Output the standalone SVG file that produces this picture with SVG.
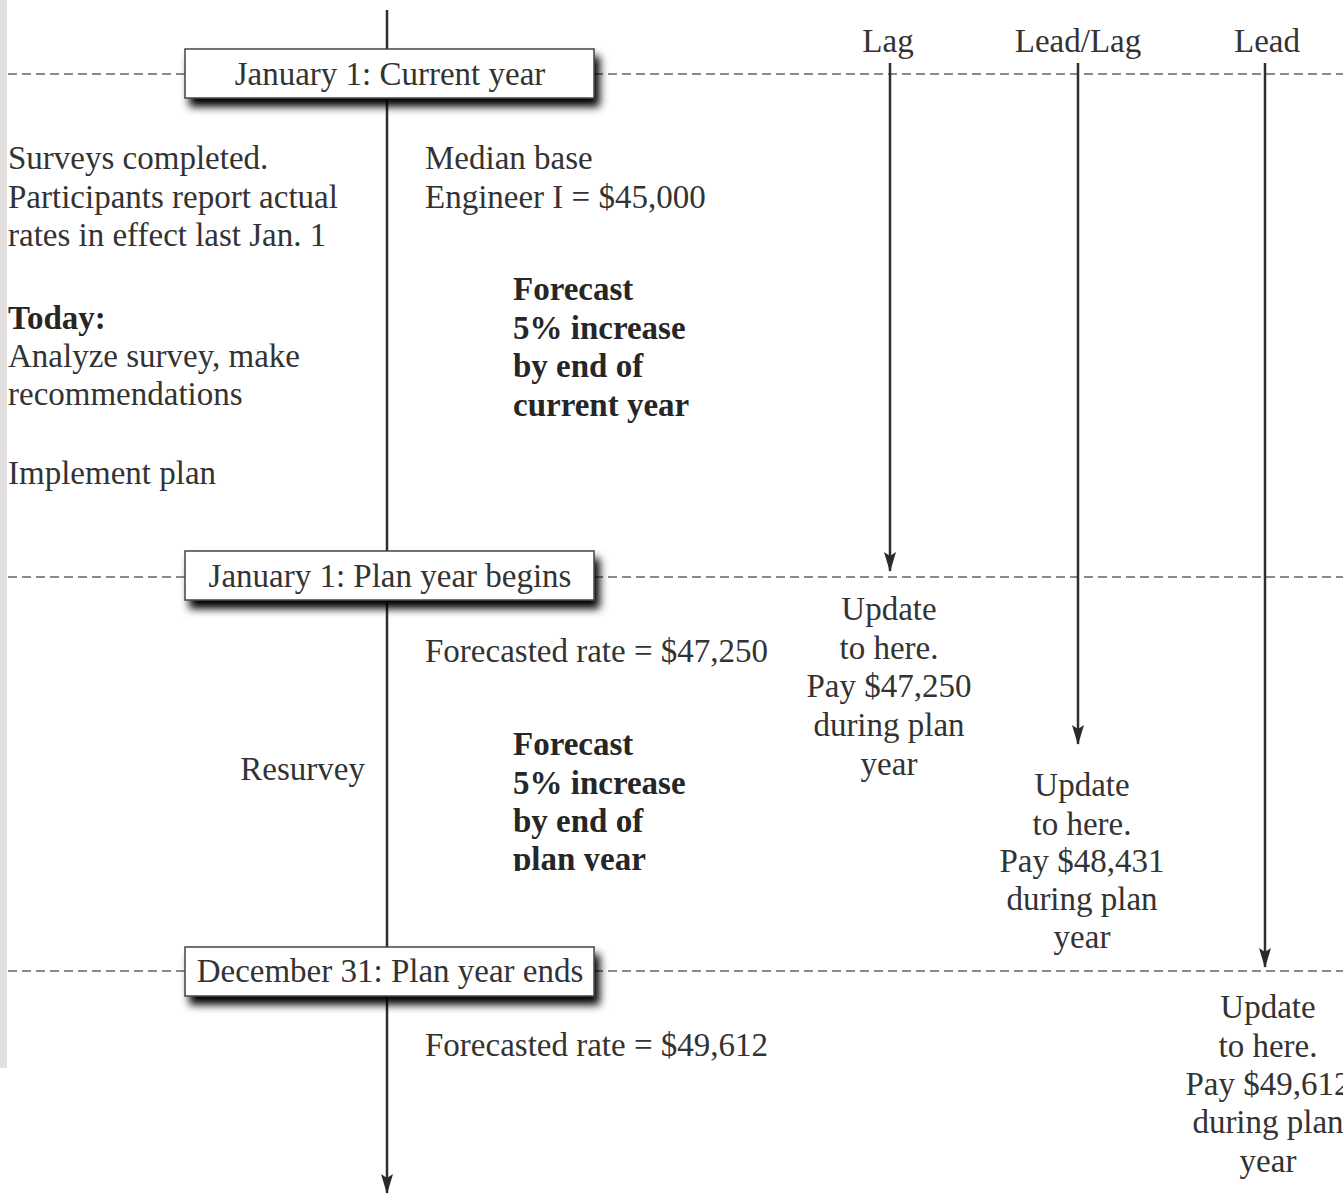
<svg xmlns="http://www.w3.org/2000/svg" width="1343" height="1197" viewBox="0 0 1343 1197">
<style>
  text { font-family: "Liberation Serif", "Times New Roman", serif; font-size: 33px; fill: #333; }
  .b { font-weight: bold; fill: #262626; }
  .c { text-anchor: middle; }
  .r { text-anchor: end; }
  .dash { stroke: #8a8a8a; stroke-width: 2; stroke-dasharray: 9 5; fill: none; }
  .line { stroke: #2e2e2e; stroke-width: 2.5; fill: none; }
  .box { fill: #fff; stroke: #444; stroke-width: 1.5; }
</style>
<defs>
  <marker id="ah" markerUnits="userSpaceOnUse" markerWidth="20" markerHeight="12" refX="19" refY="6" orient="auto" viewBox="0 0 20 12">
    <path d="M0,0 L20,6 L0,12 L4,6 z" fill="#2a2a2a"/>
  </marker>
  <filter id="sh" x="-10%" y="-30%" width="125%" height="200%">
    <feGaussianBlur in="SourceAlpha" stdDeviation="4"/>
    <feOffset dx="5" dy="8" result="o"/>
    <feComponentTransfer><feFuncA type="linear" slope="1"/></feComponentTransfer>
    <feMerge><feMergeNode/><feMergeNode in="SourceGraphic"/></feMerge>
  </filter>
  <clipPath id="clipPlan"><rect x="500" y="840" width="250" height="31"/></clipPath>
</defs>
<rect x="0" y="0" width="1343" height="1197" fill="#fff"/>
<rect x="0" y="0" width="7" height="1068" fill="#e3dfdf"/>

<g id="connectors">
  <line class="dash" x1="8" y1="74" x2="185" y2="74"/>
  <line class="dash" x1="594" y1="74" x2="1343" y2="74"/>
  <line class="dash" x1="8" y1="577" x2="185" y2="577"/>
  <line class="dash" x1="594" y1="577" x2="1343" y2="577"/>
  <line class="dash" x1="8" y1="971" x2="185" y2="971"/>
  <line class="dash" x1="594" y1="971" x2="1343" y2="971"/>
  <line class="line" x1="387" y1="10" x2="387" y2="1193" marker-end="url(#ah)"/>
  <line class="line" x1="890" y1="63" x2="890" y2="571" marker-end="url(#ah)"/>
  <line class="line" x1="1078" y1="63" x2="1078" y2="744" marker-end="url(#ah)"/>
  <line class="line" x1="1265" y1="63" x2="1265" y2="967" marker-end="url(#ah)"/>
</g>

<g id="box-current-year">
  <rect class="box" x="185" y="49" width="409" height="49" filter="url(#sh)"/>
  <text class="c" x="390" y="85">January 1: Current year</text>
</g>
<g id="box-plan-begins">
  <rect class="box" x="185" y="551" width="409" height="49" filter="url(#sh)"/>
  <text class="c" x="390" y="587">January 1: Plan year begins</text>
</g>
<g id="box-plan-ends">
  <rect class="box" x="185" y="947" width="409" height="49" filter="url(#sh)"/>
  <text class="c" x="390" y="982">December 31: Plan year ends</text>
</g>

<g id="left-notes">
  <text x="8" y="169">Surveys completed.</text>
  <text x="8" y="208">Participants report actual</text>
  <text x="8" y="246">rates in effect last Jan. 1</text>
  <text class="b" x="8" y="329">Today:</text>
  <text x="8" y="367">Analyze survey, make</text>
  <text x="8" y="405">recommendations</text>
  <text x="8" y="484">Implement plan</text>
  <text class="r" x="365" y="780">Resurvey</text>
</g>

<g id="median-base">
  <text x="425" y="169">Median base</text>
  <text x="425" y="208">Engineer I = $45,000</text>
</g>
<g id="forecast-current">
  <text class="b" x="513" y="300">Forecast</text>
  <text class="b" x="513" y="339">5% increase</text>
  <text class="b" x="513" y="377">by end of</text>
  <text class="b" x="513" y="416">current year</text>
</g>
<g id="rate-47250">
  <text x="425" y="662">Forecasted rate = $47,250</text>
</g>
<g id="forecast-plan">
  <text class="b" x="513" y="755">Forecast</text>
  <text class="b" x="513" y="794">5% increase</text>
  <text class="b" x="513" y="832">by end of</text>
  <text class="b" x="513" y="870" clip-path="url(#clipPlan)">plan year</text>
</g>
<g id="rate-49612">
  <text x="425" y="1056">Forecasted rate = $49,612</text>
</g>

<g id="heading-lag"><text class="c" x="888" y="52">Lag</text></g>
<g id="heading-leadlag"><text class="c" x="1078" y="52">Lead/Lag</text></g>
<g id="heading-lead"><text class="c" x="1267" y="52">Lead</text></g>

<g id="update-lag">
  <text class="c" x="889" y="620">Update</text>
  <text class="c" x="889" y="659">to here.</text>
  <text class="c" x="889" y="697">Pay $47,250</text>
  <text class="c" x="889" y="736">during plan</text>
  <text class="c" x="889" y="775">year</text>
</g>
<g id="update-leadlag">
  <text class="c" x="1082" y="796">Update</text>
  <text class="c" x="1082" y="835">to here.</text>
  <text class="c" x="1082" y="872">Pay $48,431</text>
  <text class="c" x="1082" y="910">during plan</text>
  <text class="c" x="1082" y="948">year</text>
</g>
<g id="update-lead">
  <text class="c" x="1268" y="1018">Update</text>
  <text class="c" x="1268" y="1057">to here.</text>
  <text class="c" x="1268" y="1095">Pay $49,612</text>
  <text class="c" x="1268" y="1133">during plan</text>
  <text class="c" x="1268" y="1172">year</text>
</g>
</svg>
